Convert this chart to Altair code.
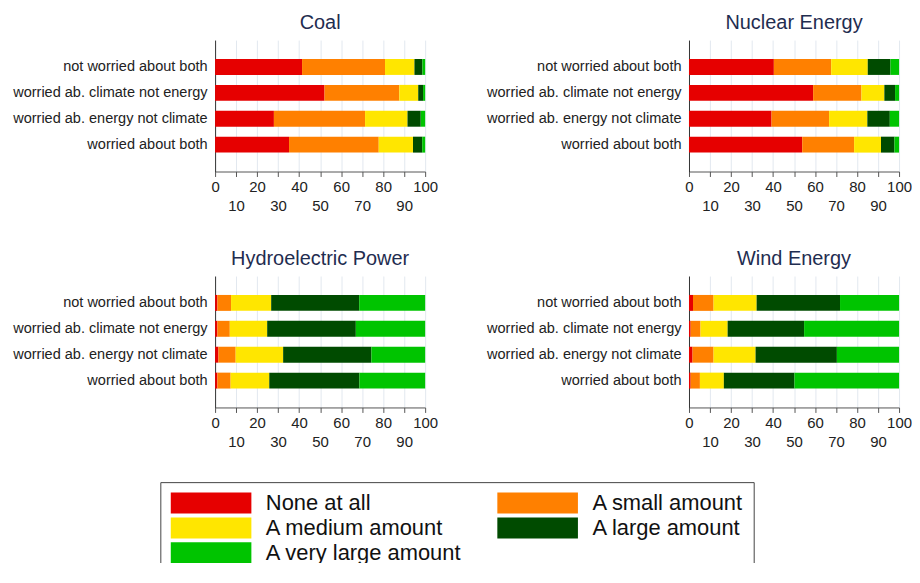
import altair as alt
import pandas as pd

groups = ["not worried about both", "worried ab. climate not energy",
          "worried ab. energy not climate", "worried about both"]
levels = ["None at all", "A small amount", "A medium amount",
          "A large amount", "A very large amount"]
colors = ["#e60000", "#ff8000", "#ffe600", "#004b00", "#00c400"]
sources = ["Coal", "Nuclear Energy", "Hydroelectric Power", "Wind Energy"]

# percentages per group (rows) and level (columns)
coal = [[41.4, 39.5, 14.0, 3.8, 1.3],
        [52.1, 35.6, 9.0, 2.3, 1.0],
        [28.0, 43.4, 20.2, 6.3, 2.1],
        [35.2, 42.7, 16.3, 4.4, 1.4]]
nuclear = [[40.4, 27.3, 17.4, 10.8, 4.1],
           [59.1, 23.0, 10.9, 5.1, 1.9],
           [39.3, 27.4, 18.2, 10.7, 4.4],
           [53.9, 24.7, 12.8, 6.4, 2.2]]
hydro = [[1.1, 6.5, 19.1, 41.9, 31.4],
         [1.1, 5.9, 17.8, 42.2, 33.0],
         [1.6, 8.2, 22.6, 42.0, 25.6],
         [1.1, 6.3, 18.4, 42.9, 31.3]]
wind = [[1.9, 9.8, 20.5, 39.7, 28.1],
        [0.8, 4.7, 12.9, 36.4, 45.2],
        [1.7, 10.0, 20.0, 38.7, 29.6],
        [0.8, 4.4, 11.4, 33.6, 49.8]]
x_ticks = [0, 10, 20, 30, 40, 50, 60, 70, 80, 90, 100]

rows = []
for src, table in zip(sources, [coal, nuclear, hydro, wind]):
    for g, vals in zip(groups, table):
        for i, (lev, v) in enumerate(zip(levels, vals)):
            rows.append(dict(source=src, group=g, level=lev, order=i, pct=v))
df = pd.DataFrame(rows)

FONT = "Liberation Sans"
# wide rectangle symbol (81 x 21 px at size 441), starting at the entry's left edge
RECT = "M-1,-1L6.71,-1L6.71,1L-1,1Z"


def panel(src):
    return alt.Chart(df).transform_filter(alt.datum.source == src).mark_bar().encode(
        x=alt.X("pct:Q", stack="zero", title=None,
                scale=alt.Scale(domain=[0, 100], nice=False),
                axis=alt.Axis(values=x_ticks, grid=True, gridColor="#e2e8ef",
                              tickColor="#555555", tickSize=5, domainColor="#555555",
                              labelFontSize=15, labelColor="#222222", labelFont=FONT,
                              labelOverlap=False, labelFlush=False,
                              labelPadding={"condition": {"test": "datum.value % 20 === 0", "value": 3},
                                            "value": 22})),
        y=alt.Y("group:N", sort=groups, title=None,
                scale=alt.Scale(paddingInner=0.385, paddingOuter=0.73),
                axis=alt.Axis(ticks=False, domainColor="#333333", labelFontSize=14.6,
                              labelColor="#222222", labelFont=FONT, labelPadding=8,
                              labelLimit=400)),
        color=alt.Color("level:N", sort=levels,
                        scale=alt.Scale(domain=levels, range=colors),
                        legend=alt.Legend(title=None, orient="none", legendX=-55, legendY=444,
                                          direction="horizontal", columns=2,
                                          symbolType=RECT, symbolSize=441, symbolStrokeWidth=0,
                                          labelFontSize=22, labelFont=FONT, labelColor="#111111",
                                          labelOffset=74, labelLimit=400,
                                          columnPadding=35, rowPadding=3,
                                          strokeColor="#444444", padding=10)),
        order=alt.Order("order:Q"),
    ).properties(width=211, height=132,
                 title=alt.TitleParams(src, fontSize=20, font=FONT, fontWeight="normal",
                                       color="#1f2d50", anchor="middle", offset=7))


row1 = alt.hconcat(panel("Coal"), panel("Nuclear Energy"), spacing=48)
row2 = alt.hconcat(panel("Hydroelectric Power"), panel("Wind Energy"), spacing=48)
chart = alt.vconcat(row1, row2, spacing=36).configure_view(stroke=None).properties(
    background="white",
    padding={"left": 4, "top": 4, "right": 0, "bottom": -13})

chart.save("out.html", embed_options={"renderer": "svg", "actions": False})
